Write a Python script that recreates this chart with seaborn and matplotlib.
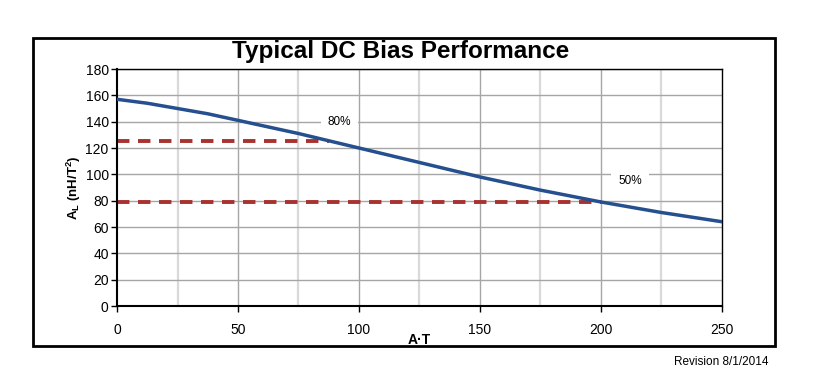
import numpy as np
import pandas as pd
import matplotlib
matplotlib.use("Agg")
import matplotlib.pyplot as plt
from matplotlib.patches import Rectangle
import seaborn as sns

# values
amp_turns = [0, 12.5, 25, 37.5, 50, 62.5, 75, 87.5, 100, 112.5, 125, 137.5,
             150, 162.5, 175, 187.5, 200, 212.5, 225, 237.5, 250]
al_values = [157, 154, 150, 146, 141, 136, 131, 125.5, 120, 114.5, 109, 103.5,
             98, 93, 88, 83.5, 79, 75, 71, 67.5, 64]

# reference levels (80% and 50%)
level_names = ["80%", "50%"]
level_y = [125.5, 79]
level_x_end = [87.5, 200]
label_x = [92, 212]
label_y = [140, 95]

sns.set_theme(style="white")
plt.rcParams['font.family'] = ['Liberation Sans', 'DejaVu Sans']
plt.rcParams['text.color'] = 'black'
plt.rcParams['axes.labelcolor'] = 'black'
plt.rcParams['xtick.color'] = 'black'
plt.rcParams['ytick.color'] = 'black'

fig = plt.figure(figsize=(8.31, 3.74), dpi=100)
ax = fig.add_axes([0.1408, 0.1818, 0.728, 0.6337])

# outer frame
fig.patches.append(Rectangle((0.0397, 0.075), 0.893, 0.823, transform=fig.transFigure,
                             fill=False, edgecolor="black", linewidth=2))

# grid
for x in np.arange(25, 250, 50):
    ax.axvline(x, color="#d9d9d9", linewidth=1.6, zorder=0)
for x in np.arange(50, 250, 50):
    ax.axvline(x, color="#a6a6a6", linewidth=1.0, zorder=0)
for y in np.arange(20, 181, 20):
    ax.axhline(y, color="#a6a6a6", linewidth=1.0, zorder=0)

df = pd.DataFrame({"AT": amp_turns, "AL": al_values})
sns.lineplot(data=df, x="AT", y="AL", ax=ax, color="#254f8e", linewidth=2.5, zorder=3)

for name, y, xe in zip(level_names, level_y, level_x_end):
    d = pd.DataFrame({"AT": [0, xe], "AL": [y, y]})
    sns.lineplot(data=d, x="AT", y="AL", ax=ax, color="#a8322f", linewidth=2.8,
                 dashes=False, zorder=2).lines[-1].set_dashes([3.2, 2.2])

for name, x, y in zip(level_names, label_x, label_y):
    ax.text(x, y, name, ha="center", va="center", fontsize=8.5, zorder=1.5,
            bbox=dict(boxstyle="square,pad=0.6", facecolor="white", edgecolor="none"))

ax.set_xlim(0, 250)
ax.set_ylim(0, 180)
ax.set_xticks(np.arange(0, 251, 50))
ax.set_yticks(np.arange(0, 181, 20))
ax.tick_params(axis="x", bottom=True, length=4, width=1, pad=8, labelsize=10)
ax.tick_params(axis="y", left=True, length=4, width=1, pad=2, labelsize=10)
for s in ax.spines.values():
    s.set_color("black")
    s.set_linewidth(1.0)
ax.spines["left"].set_linewidth(1.5)
ax.spines["bottom"].set_linewidth(1.5)

ax.set_xlabel("A·T", fontsize=10, fontweight="bold", labelpad=-3)
ax.set_ylabel(r"A$_\mathregular{L}$ (nH/T$^\mathregular{2}$)", fontsize=9.5,
              fontweight="bold", labelpad=2)
fig.text(0.4825, 0.862, "Typical DC Bias Performance", ha="center", va="center",
         fontsize=17.5, fontweight="bold")
fig.text(0.925, 0.032, "Revision 8/1/2014", ha="right", va="center", fontsize=8.5)

fig.savefig("out.png", dpi=100)
